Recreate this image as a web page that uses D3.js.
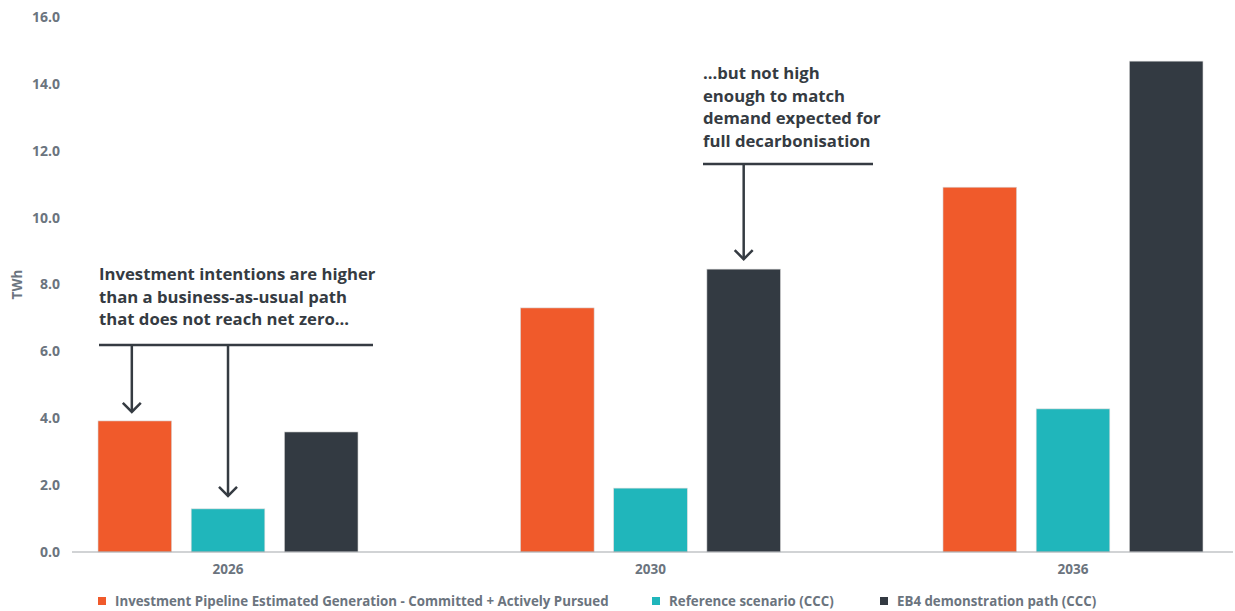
<!DOCTYPE html>
<html>
<head>
<meta charset="utf-8">
<title>Generation TWh</title>
<script src="https://cdn.jsdelivr.net/npm/d3@7"></script>
<style>
    body { margin: 0; background: #fff; }
    svg text { font-family: "Open Sans", "Lato", sans-serif; }
</style>
</head>
<body>
<div id="chart"></div>
<script>
    // Data ***********************
    var years = ["2026", "2030", "2036"];
    var seriesNames = [
        "Investment Pipeline Estimated Generation - Committed + Actively Pursued",
        "Reference scenario (CCC)",
        "EB4 demonstration path (CCC)"
    ];
    var pipeline = [3.92, 7.30, 10.91];
    var reference = [1.29, 1.91, 4.28];
    var eb4 = [3.59, 8.46, 14.68];
    var yTicks = [0, 2, 4, 6, 8, 10, 12, 14, 16];
    var colors = ["#f05a2b", "#20b6bb", "#333a42"];

    var note1 = ["Investment intentions are higher", "than a business-as-usual path", "that does not reach net zero..."];
    var note2 = ["...but not high", "enough to match", "demand expected for", "full decarbonisation"];

    var values = [pipeline, reference, eb4];
    var data = [];
    years.forEach(function (yr, i) {
        seriesNames.forEach(function (s, j) {
            data.push({year: yr, series: j, value: values[j][i]});
        });
    });

    // Layout ***********************
    var width = 1235, height = 611;
    var svg = d3.select("#chart").append("svg")
        .attr("width", width)
        .attr("height", height);

    var x = d3.scalePoint().domain(years).range([70, 1231]).padding(0.374);
    var xs = d3.scaleBand().domain([0, 1, 2]).range([-130, 130]).paddingInner(0.21);
    var y = d3.scaleLinear().domain([0, 16]).range([552, 17]);

    var grey = "#6b747e";
    var ink = "#353b42";

    // y tick labels
    svg.append("g").selectAll("text")
        .data(yTicks)
        .enter().append("text")
        .attr("x", 60)
        .attr("y", function (d) { return y(d); })
        .attr("dy", "0.35em")
        .attr("text-anchor", "end")
        .attr("fill", grey)
        .style("font-size", "14px")
        .style("font-weight", 700)
        .text(function (d) { return d.toFixed(1); });

    // y axis title
    svg.append("text")
        .attr("transform", "translate(22," + y(8) + ") rotate(-90)")
        .attr("text-anchor", "middle")
        .attr("fill", grey)
        .style("font-size", "13.5px")
        .style("font-weight", 700)
        .text("TWh");

    // bars
    svg.append("g").selectAll("rect")
        .data(data)
        .enter().append("rect")
        .attr("x", function (d) { return x(d.year) + xs(d.series); })
        .attr("width", xs.bandwidth())
        .attr("y", function (d) { return y(d.value); })
        .attr("height", function (d) { return y(0) - y(d.value); })
        .attr("fill", function (d) { return colors[d.series]; })
        .attr("stroke", "#d9d9d9")
        .attr("stroke-width", 0.6);

    // baseline
    svg.append("line")
        .attr("x1", 72).attr("x2", 1233)
        .attr("y1", y(0)).attr("y2", y(0))
        .attr("stroke", "#a3a7ab")
        .attr("stroke-width", 1.2);

    // x labels
    svg.append("g").selectAll("text")
        .data(years)
        .enter().append("text")
        .attr("x", function (d) { return x(d); })
        .attr("y", 574)
        .attr("text-anchor", "middle")
        .attr("fill", grey)
        .style("font-size", "13.5px")
        .style("font-weight", 700)
        .text(function (d) { return d; });

    // legend
    var legendX = [98, 652, 880];
    var legend = svg.append("g").selectAll("g")
        .data(seriesNames)
        .enter().append("g")
        .attr("transform", function (d, i) { return "translate(" + legendX[i] + ",601)"; });
    legend.append("rect")
        .attr("x", 0).attr("y", -4)
        .attr("width", 8).attr("height", 8)
        .attr("fill", function (d, i) { return colors[i]; });
    legend.append("text")
        .attr("x", 17)
        .attr("dy", "0.35em")
        .attr("fill", grey)
        .style("font-size", "13.3px")
        .style("font-weight", 700)
        .text(function (d) { return d; });

    // annotations ***********************
    function arrow(g, cx, yFrom, yTo) {
        g.append("line")
            .attr("x1", cx).attr("x2", cx)
            .attr("y1", yFrom).attr("y2", yTo)
            .attr("stroke", ink).attr("stroke-width", 2.5);
        g.append("path")
            .attr("d", "M" + (cx - 9) + "," + (yTo - 9) + "L" + cx + "," + yTo + "L" + (cx + 9) + "," + (yTo - 9))
            .attr("fill", "none")
            .attr("stroke", ink)
            .attr("stroke-width", 2.5);
    }

    function note(lines, left, top) {
        svg.append("g").selectAll("text")
            .data(lines)
            .enter().append("text")
            .attr("x", left)
            .attr("y", function (d, i) { return top + i * 22.7; })
            .attr("dy", "0.35em")
            .attr("fill", ink)
            .style("font-size", "16.7px")
            .style("font-weight", 700)
            .text(function (d) { return d; });
    }

    var g1 = svg.append("g");
    note(note1, 99, 274);
    g1.append("line")
        .attr("x1", 99).attr("x2", 373)
        .attr("y1", 345).attr("y2", 345)
        .attr("stroke", ink).attr("stroke-width", 2.5);
    arrow(g1, x("2026") + xs(0) + xs.bandwidth() / 2 - 3, 345, y(pipeline[0]) - 9);
    arrow(g1, x("2026") + xs(1) + xs.bandwidth() / 2, 345, y(reference[0]) - 13);

    var g2 = svg.append("g");
    note(note2, 703, 73);
    g2.append("line")
        .attr("x1", 703).attr("x2", 873)
        .attr("y1", 164).attr("y2", 164)
        .attr("stroke", ink).attr("stroke-width", 2.5);
    arrow(g2, x("2030") + xs(2) + xs.bandwidth() / 2, 164, y(eb4[1]) - 10);
</script>
</body>
</html>
